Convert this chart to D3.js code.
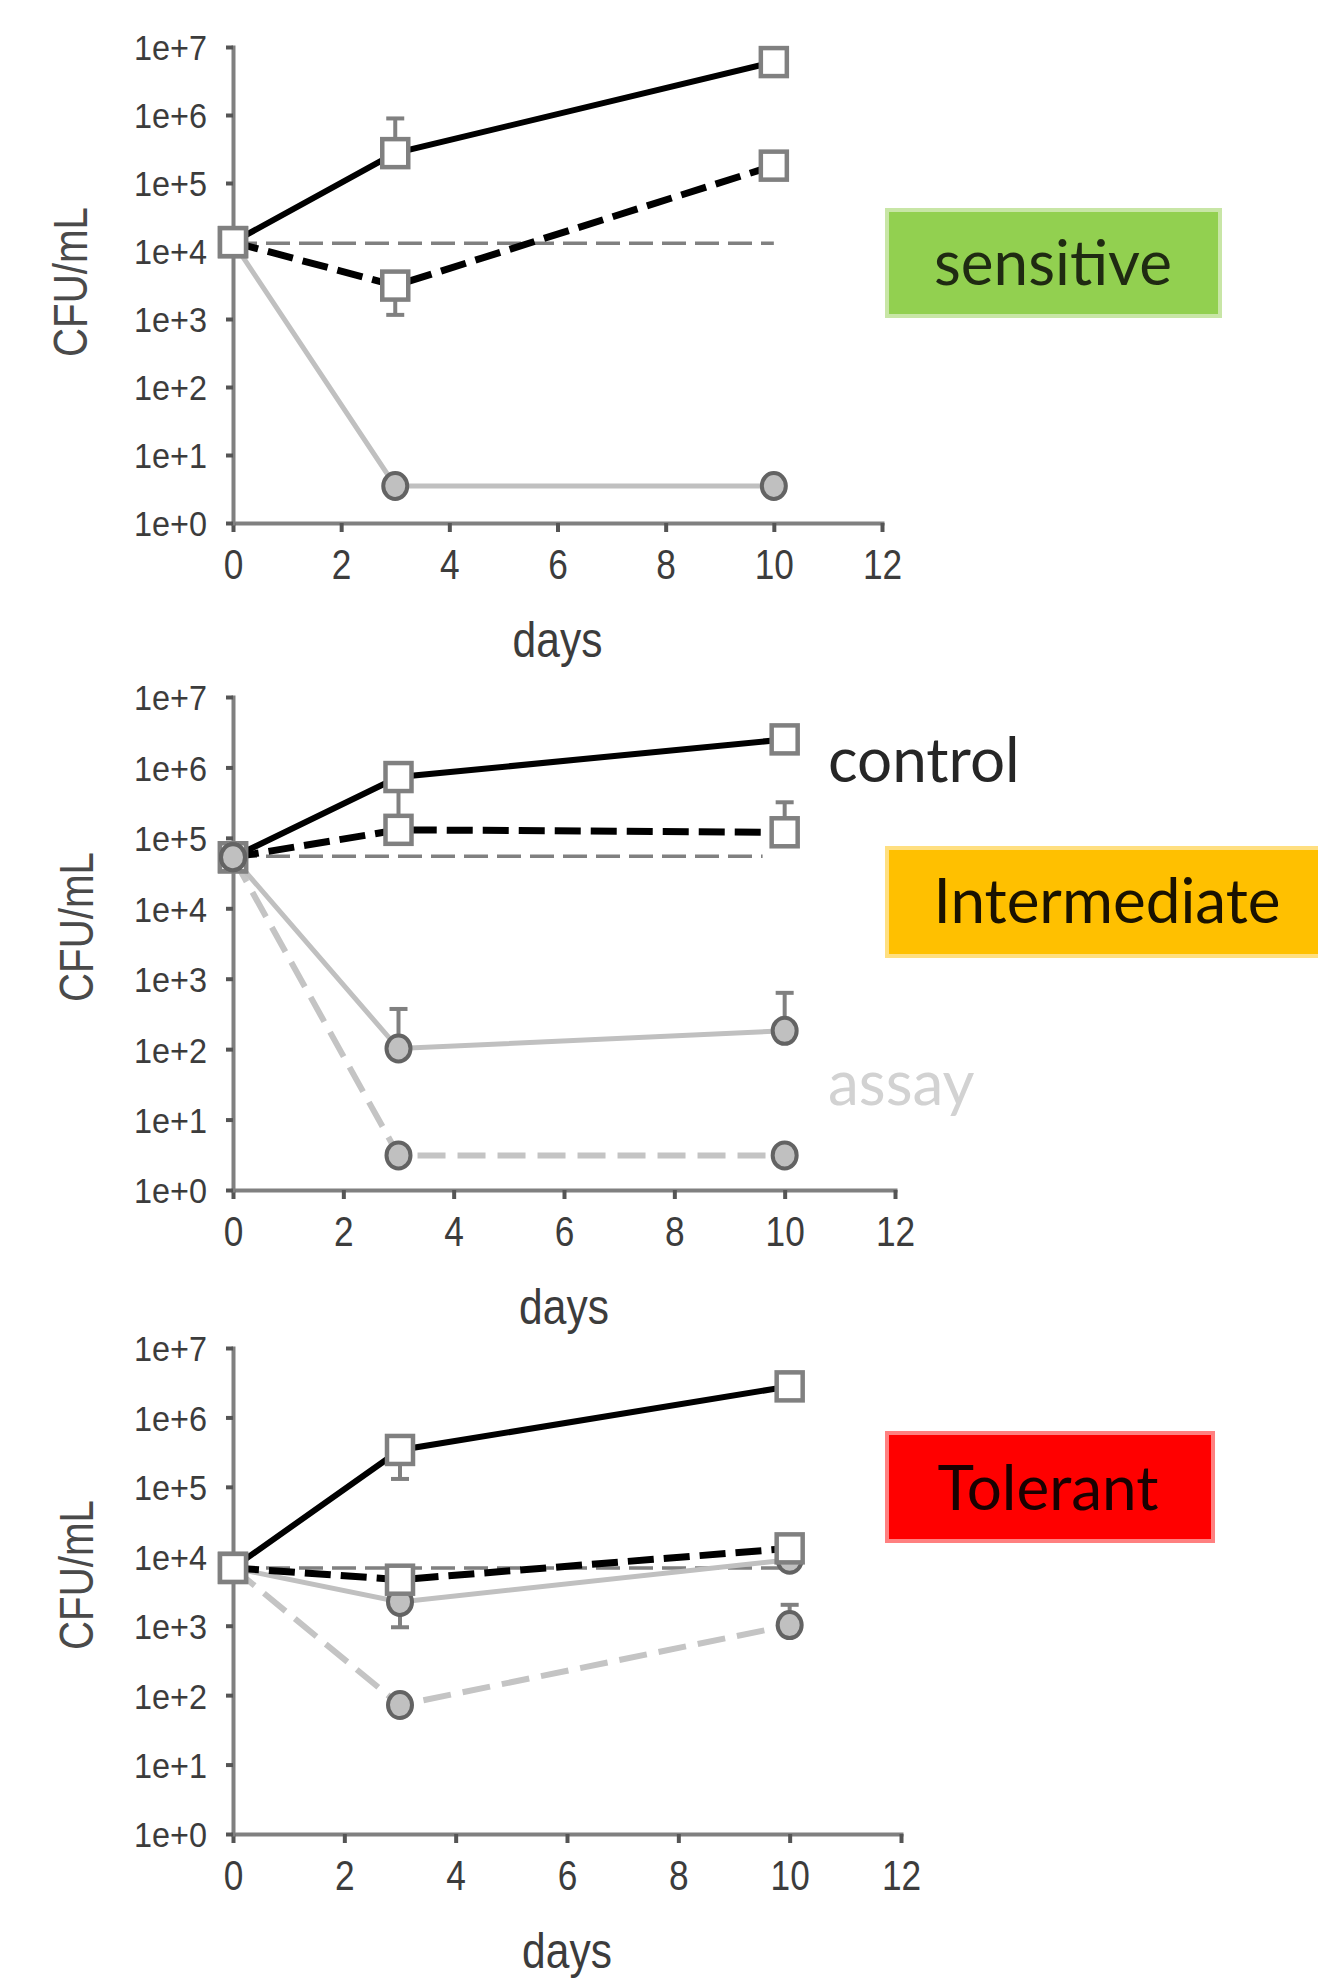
<!DOCTYPE html>
<html>
<head>
<meta charset="utf-8">
<script src="https://cdn.jsdelivr.net/npm/d3@7"></script>
<style>
  body { margin: 0; background: #fff; }
  svg text { font-family: "Liberation Sans", Arial, sans-serif; }
  .tag { font-family: Lato, "Open Sans", sans-serif; }
</style>
</head>
<body>
<svg id="chart" width="1318" height="1978"></svg>
<script>
const days = [0, 3, 10];
const xTickValues = [0, 2, 4, 6, 8, 10, 12];
const yTickValues = [1e0, 1e1, 1e2, 1e3, 1e4, 1e5, 1e6, 1e7];
const yTickLabels = ["1e+0", "1e+1", "1e+2", "1e+3", "1e+4", "1e+5", "1e+6", "1e+7"];

// sensitive
const sensCtrl = [1.35e4, 2.75e5, 6.0e6];
const sensCtrlHi = [null, 8.9e5, null];
const sensCtrlDash = [1.35e4, 3.1e3, 1.8e5];
const sensCtrlDashLo = [null, 1.15e3, null];
const sensAssay = [1.35e4, 3.5, 3.5];
const sensRefDays = [0, 10];
const sensRef = [1.3e4, 1.3e4];

// intermediate
const interCtrl = [5.3e4, 7.3e5, 2.5e6];
const interCtrlLo = [null, 2.0e5, null];
const interCtrlDash = [5.3e4, 1.3e5, 1.2e5];
const interCtrlDashHi = [null, null, 3.2e5];
const interAssay = [5.3e4, 102, 182];
const interAssayHi = [null, 372, 630];
const interAssayDash = [5.3e4, 3.1, 3.1];
const interRefDays = [0, 9.6];
const interRef = [5.5e4, 5.5e4];

// tolerant
const tolCtrl = [6.8e3, 3.4e5, 2.8e6];
const tolCtrlLo = [null, 1.3e5, null];
const tolCtrlHi = [null, null, 4.4e6];
const tolCtrlDash = [6.8e3, 4.6e3, 1.3e4];
const tolAssay = [6.8e3, 2.2e3, 8.9e3];
const tolAssayLo = [null, 950, null];
const tolAssayDash = [6.8e3, 72, 1.02e3];
const tolAssayDashHi = [null, null, 2.0e3];
const tolRefDays = [0, 10];
const tolRef = [6.8e3, 6.8e3];

const styles = {
    ref:       { stroke: "#808080", width: 3.5, dash: "24 9", marker: null },
    assayDash: { stroke: "#c4c4c4", width: 6, dash: "28 12", marker: "circle" },
    assay:     { stroke: "#c0c0c0", width: 5, dash: null, marker: "circle" },
    ctrlDash:  { stroke: "#000", width: 7, dash: "26 10", marker: "square" },
    ctrl:      { stroke: "#000", width: 6, dash: null, marker: "square" }
};

const panels = [
    {
        left: 233, right: 882, top: 47, bottom: 523, yLabelX: 70, yLabelY: 282, circlesOnTop: false,
        tag: { text: "sensitive", fill: "#92d050", edge: "#c8e6a6", x: 887, y: 210, w: 333, h: 106, color: "#1f2a12", tx: 1053, ty: 285 },
        series: [
            { style: "ref", days: sensRefDays, values: sensRef },
            { style: "assay", days: days, values: sensAssay },
            { style: "ctrlDash", days: days, values: sensCtrlDash, lo: sensCtrlDashLo },
            { style: "ctrl", days: days, values: sensCtrl, hi: sensCtrlHi }
        ]
    },
    {
        left: 233, right: 895, top: 697, bottom: 1190, yLabelX: 76, yLabelY: 927, circlesOnTop: true,
        tag: { text: "Intermediate", fill: "#ffc000", edge: "#ffdf80", x: 887, y: 848, w: 440, h: 108, color: "#1a1200", tx: 1107, ty: 923 },
        notes: [
            { text: "control", x: 828, y: 782, color: "#262626" },
            { text: "assay", x: 828, y: 1105, color: "#d2d2d2" }
        ],
        series: [
            { style: "ref", days: interRefDays, values: interRef },
            { style: "assayDash", days: days, values: interAssayDash },
            { style: "assay", days: days, values: interAssay, hi: interAssayHi },
            { style: "ctrlDash", days: days, values: interCtrlDash, hi: interCtrlDashHi },
            { style: "ctrl", days: days, values: interCtrl, lo: interCtrlLo }
        ]
    },
    {
        left: 233, right: 901, top: 1348, bottom: 1834, yLabelX: 76, yLabelY: 1575, circlesOnTop: false,
        tag: { text: "Tolerant", fill: "#ff0000", edge: "#ff8080", x: 887, y: 1433, w: 326, h: 108, color: "#1a0000", tx: 1048, ty: 1510 },
        series: [
            { style: "ref", days: tolRefDays, values: tolRef },
            { style: "assayDash", days: days, values: tolAssayDash, hi: tolAssayDashHi },
            { style: "assay", days: days, values: tolAssay, lo: tolAssayLo },
            { style: "ctrlDash", days: days, values: tolCtrlDash },
            { style: "ctrl", days: days, values: tolCtrl, lo: tolCtrlLo, hi: tolCtrlHi }
        ]
    }
];

const svg = d3.select("#chart");
svg.append("rect").attr("width", 1318).attr("height", 1978).attr("fill", "#fff");

panels.forEach(p => {
    const x = d3.scaleLinear().domain([0, 12]).range([p.left, p.right]);
    const y = d3.scaleLog().domain([1, 1e7]).range([p.bottom, p.top]);
    const g = svg.append("g");

    // axes
    const xAxis = g.append("g")
        .attr("transform", "translate(0," + p.bottom + ")")
        .call(d3.axisBottom(x).tickValues(xTickValues).tickSize(9).tickSizeOuter(0).tickFormat(d3.format("d")));
    xAxis.selectAll("text")
        .attr("y", 41).attr("dy", "0.36em")
        .attr("transform", "scale(0.82,1)")
        .style("font-size", "43px").attr("fill", "#3c3c3c");

    const yAxis = g.append("g")
        .attr("transform", "translate(" + p.left + ",0)")
        .call(d3.axisLeft(y).tickValues(yTickValues).tickSize(7).tickSizeOuter(0).tickPadding(19)
            .tickFormat((d, i) => yTickLabels[i]));
    yAxis.selectAll("text")
        .attr("x", 0).attr("dy", "0.36em")
        .attr("transform", "translate(-26,0) scale(0.9,1)")
        .style("font-size", "36px").attr("fill", "#3c3c3c");

    g.selectAll(".domain").attr("stroke", "#808080").attr("stroke-width", 4).attr("stroke-linecap", "square");
    g.selectAll(".tick line").attr("stroke", "#555").attr("stroke-width", 4);

    // axis titles
    g.append("text")
        .attr("transform", "translate(" + p.yLabelX + "," + p.yLabelY + ") rotate(-90) scale(0.84,1)")
        .attr("text-anchor", "middle").attr("dy", "0.36em")
        .style("font-size", "48px").attr("fill", "#4a4a4a")
        .text("CFU/mL");
    g.append("text")
        .attr("transform", "translate(" + ((p.left + p.right) / 2) + "," + (p.bottom + 134) + ") scale(0.85,1)")
        .attr("text-anchor", "middle")
        .style("font-size", "50px").attr("fill", "#3c3c3c")
        .text("days");

    // lines
    const line = d3.line().x(d => x(d[0])).y(d => y(d[1]));
    p.series.forEach(s => {
        const st = styles[s.style];
        g.append("path")
            .datum(s.days.map((d, i) => [d, s.values[i]]))
            .attr("d", line)
            .attr("fill", "none")
            .attr("stroke", st.stroke)
            .attr("stroke-width", st.width)
            .attr("stroke-dasharray", st.dash);
    });

    // error bars
    p.series.forEach(s => {
        ["lo", "hi"].forEach(k => {
            if (!s[k]) return;
            s[k].forEach((e, i) => {
                if (e == null) return;
                const cx = x(s.days[i]);
                g.append("line").attr("x1", cx).attr("x2", cx)
                    .attr("y1", y(s.values[i])).attr("y2", y(e))
                    .attr("stroke", "#808080").attr("stroke-width", 4);
                g.append("line").attr("x1", cx - 9).attr("x2", cx + 9)
                    .attr("y1", y(e)).attr("y2", y(e))
                    .attr("stroke", "#808080").attr("stroke-width", 4);
            });
        });
    });

    // markers
    const drawMarkers = type => {
        p.series.forEach(s => {
            const st = styles[s.style];
            if (st.marker !== type) return;
            s.days.forEach((d, i) => {
                if (type === "square") {
                    g.append("rect")
                        .attr("x", x(d) - 13).attr("y", y(s.values[i]) - 14)
                        .attr("width", 26).attr("height", 28)
                        .attr("fill", "#fff").attr("stroke", "#808080").attr("stroke-width", 4.5);
                } else {
                    g.append("ellipse")
                        .attr("cx", x(d)).attr("cy", y(s.values[i]))
                        .attr("rx", 12).attr("ry", 13)
                        .attr("fill", "#c0c0c0").attr("stroke", "#636363").attr("stroke-width", 4);
                }
            });
        });
    };
    if (p.circlesOnTop) { drawMarkers("square"); drawMarkers("circle"); }
    else { drawMarkers("circle"); drawMarkers("square"); }

    // category tag
    const t = p.tag;
    g.append("rect").attr("x", t.x).attr("y", t.y).attr("width", t.w).attr("height", t.h)
        .attr("fill", t.fill).attr("stroke", t.edge).attr("stroke-width", 4);
    g.append("text").attr("class", "tag")
        .attr("x", t.tx).attr("y", t.ty).attr("text-anchor", "middle")
        .style("font-size", "62px").attr("fill", t.color)
        .text(t.text);

    (p.notes || []).forEach(n => {
        g.append("text").attr("class", "tag")
            .attr("x", n.x).attr("y", n.y)
            .style("font-size", "62px").attr("fill", n.color)
            .text(n.text);
    });
});
</script>
</body>
</html>
